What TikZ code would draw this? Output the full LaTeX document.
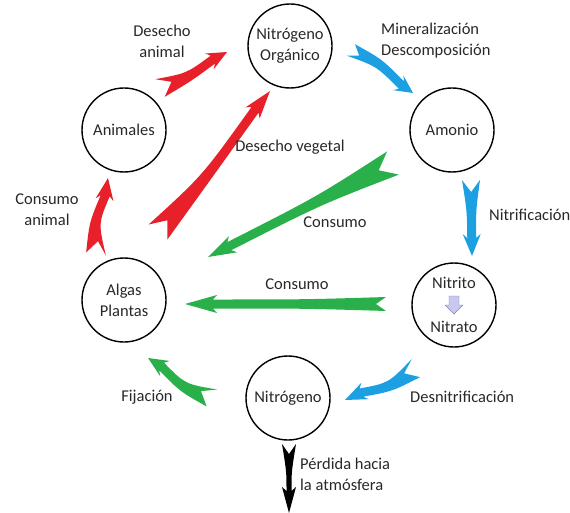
\documentclass[tikz,border=0pt]{standalone}
\usepackage{fontspec}
\setmainfont{Carlito}
\usepackage{tikz}
\usetikzlibrary{calc}

\definecolor{rojo}{RGB}{232,32,42}
\definecolor{azul}{RGB}{28,160,226}
\definecolor{verde}{RGB}{42,176,74}
\definecolor{lila}{RGB}{200,200,240}
\definecolor{lilaborde}{RGB}{130,130,190}
\definecolor{texto}{RGB}{40,40,40}

% color, cola, punta, media anchura cola, media anchura cuerpo, largo punta, curva
\newcommand{\flecha}[7]{%
  \fill[#1] ($(#2)!#4!90:(#3)$)
    .. controls ($(#2)!0.4!(#3)!{1.4*#7+#5}!90:(#3)$) ..
       ($(#3)!{#6-4pt}!(#2)!#5!-90:(#2)$)
    -- ($(#3)!#6!(#2)!{#5+4.5pt}!-90:(#2)$)
    -- (#3)
    -- ($(#3)!#6!(#2)!{#5+4.5pt}!90:(#2)$)
    -- ($(#3)!{#6-4pt}!(#2)!#5!90:(#2)$)
    .. controls ($(#2)!0.4!(#3)!{1.4*#7-#5}!90:(#3)$) ..
       ($(#2)!#4!-90:(#3)$)
    -- ($(#2)!{#4+3pt}!(#3)$) -- cycle;}

\begin{document}
\begin{tikzpicture}[x=1pt,y=-1pt,
    font=\fontsize{16.5}{21}\selectfont,
    ciclo/.style={circle,draw,line width=1.4pt,minimum size=84pt,inner sep=0pt,align=center,text=texto},
    etiqueta/.style={align=center,text=texto,inner sep=0pt}]
    \useasboundingbox (0,0) rectangle (570,513);

    \node[ciclo] (norg) at (290,46) {Nitrógeno\\Orgánico};
    \node[ciclo] (amonio) at (452,130) {Amonio};
    \node[ciclo] (animales) at (124,130) {Animales};
    \node[ciclo] (algas) at (124,300) {Algas\\Plantas};
    \node[ciclo] (nitrito) at (454,305) {};
    \node[ciclo] (nitrogeno) at (288,398) {Nitrógeno};

    \node[etiqueta] (nitritotxt) at (454,283) {Nitrito};
    \node[etiqueta] (nitratotxt) at (454,327) {Nitrato};
    \coordinate (paso) at (454,305);
    \draw[lilaborde,fill=lila] ($(paso)+(-5,-9)$) -- ($(paso)+(5,-9)$) -- ($(paso)+(5,0)$)
        -- ($(paso)+(9,0)$) -- ($(paso)+(0,9)$) -- ($(paso)+(-9,0)$) -- ($(paso)+(-5,0)$) -- cycle;

    \coordinate (da1) at (160,88);   \coordinate (da2) at (227,52);
    \coordinate (mi1) at (351,50);   \coordinate (mi2) at (413,93);
    \coordinate (ni1) at (471,180);  \coordinate (ni2) at (472,256);
    \coordinate (cd1) at (393,163);  \coordinate (cd2) at (208,257);
    \coordinate (ch1) at (386,304);  \coordinate (ch2) at (185,304);
    \coordinate (fi1) at (212,398);  \coordinate (fi2) at (148,358);
    \coordinate (de1) at (416,368);  \coordinate (de2) at (345,400);
    \coordinate (pe1) at (289,444);  \coordinate (pe2) at (289,513);
    \coordinate (ca1) at (96,254);   \coordinate (ca2) at (108,178);
    \coordinate (dv1) at (158,232);  \coordinate (dv2) at (270,91);

    \flecha{rojo}{da1}{da2}{10pt}{4.5pt}{20pt}{-3pt}
    \flecha{azul}{mi1}{mi2}{7pt}{4.5pt}{18pt}{4pt}
    \flecha{azul}{ni1}{ni2}{9pt}{4.5pt}{22pt}{0pt}
    \flecha{verde}{cd1}{cd2}{13pt}{4.5pt}{28pt}{0pt}
    \flecha{verde}{ch1}{ch2}{7pt}{4.5pt}{32pt}{0pt}
    \flecha{verde}{fi1}{fi2}{10pt}{4.5pt}{20pt}{5pt}
    \flecha{azul}{de1}{de2}{10pt}{4.5pt}{22pt}{5pt}
    \flecha{black}{pe1}{pe2}{7pt}{2.5pt}{26pt}{0pt}
    \flecha{rojo}{ca1}{ca2}{10pt}{4.5pt}{22pt}{5pt}
    \flecha{rojo}{dv1}{dv2}{12pt}{4.5pt}{28pt}{-3pt}

    \node[etiqueta] (ldesani) at (162,41) {Desecho\\animal};
    \node[etiqueta,align=left,anchor=west] (lmin) at (381,41) {Mineralización\\Descomposición};
    \node[etiqueta] (ldesveg) at (290,147) {Desecho vegetal};
    \node[etiqueta,anchor=west] (lnitri) at (489,215) {Nitrificación};
    \node[etiqueta] (lcons1) at (335,222) {Consumo};
    \node[etiqueta] (lconsani) at (47,210) {Consumo\\animal};
    \node[etiqueta] (lcons2) at (297,284) {Consumo};
    \node[etiqueta] (lfija) at (147,397) {Fijación};
    \node[etiqueta,anchor=west] (ldesni) at (410,397) {Desnitrificación};
    \node[etiqueta,align=left,anchor=west] (lperd) at (300,474) {Pérdida hacia\\la atmósfera};
\end{tikzpicture}
\end{document}
